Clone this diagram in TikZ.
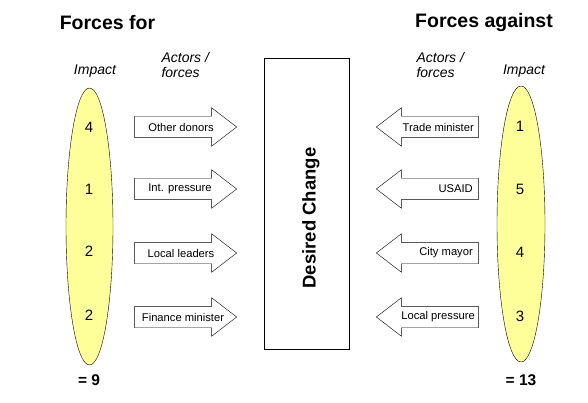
\documentclass[tikz,border=0pt]{standalone}
\usepackage{fontspec}
\setmainfont{Liberation Sans}
\usetikzlibrary{shapes.arrows}
\definecolor{impactyellow}{HTML}{FFFF99}
\tikzset{
  pusharrow/.style={single arrow,draw,fill=white,minimum height=102pt,minimum width=38pt,
    single arrow head extend=8.5pt,single arrow tip angle=75,inner xsep=0pt,inner ysep=10.5pt},
  armlabel/.style={inner sep=0pt,font=\fontsize{11.2}{13}\selectfont},
  impactnum/.style={font=\fontsize{15}{17}\selectfont},
  sumlabel/.style={font=\fontsize{15.5}{17}\selectfont\bfseries},
  colhead/.style={font=\fontsize{14}{15}\selectfont\itshape,align=left},
  bigtitle/.style={font=\fontsize{19.5}{22}\selectfont\bfseries}
}
\begin{document}
\begin{tikzpicture}[x=1pt,y=-1pt]
  \useasboundingbox (0,0) rectangle (588,403);
  % titles
  \node[bigtitle] (fortitle) at (107.5,23) {Forces for};
  \node[bigtitle] (againsttitle) at (484,23) {Forces against};
  \node[colhead] (forimpact) at (95,71) {Impact};
  \node[colhead] (againstimpact) at (524,71) {Impact};
  \node[colhead,anchor=west] (foractors) at (158,65) {Actors /\\forces};
  \node[colhead,anchor=west] (againstactors) at (413,65) {Actors /\\forces};
  % impact ellipses
  \draw[fill=impactyellow] (89.5,226.5) ellipse (23.5 and 138.5);
  \draw[fill=impactyellow] (521,224) ellipse (24 and 138);
  \node[impactnum] (f1) at (89,127) {4};
  \node[impactnum] (f2) at (89,189) {1};
  \node[impactnum] (f3) at (89,251) {2};
  \node[impactnum] (f4) at (89,315) {2};
  \node[impactnum] (a1) at (520,126) {1};
  \node[impactnum] (a2) at (520,189) {5};
  \node[impactnum] (a3) at (520,252) {4};
  \node[impactnum] (a4) at (520,316) {3};
  \node[sumlabel] (forsum) at (89,380) {= 9};
  \node[sumlabel] (againstsum) at (521,380) {= 13};
  % desired change
  \draw (264,58) rectangle (349,349);
  \node[rotate=90,font=\fontsize{18.5}{20}\selectfont\bfseries] (change) at (311,218) {Desired Change};
  % forces for
  \node[pusharrow,anchor=tip] (donorsarrow) at (237,127) {};
  \node[pusharrow,anchor=tip] (pressurearrow) at (237,189) {};
  \node[pusharrow,anchor=tip] (leadersarrow) at (237,253) {};
  \node[pusharrow,anchor=tip] (financearrow) at (237,317) {};
  \node[armlabel] (donors) at (181,127) {Other donors};
  \node[armlabel] (pressure) at (180,189) {Int. pressure};
  \node[armlabel] (leaders) at (181,253) {Local leaders};
  \node[armlabel] (finance) at (183,317) {Finance minister};
  % forces against
  \node[pusharrow,shape border rotate=180,anchor=tip] (tradearrow) at (376,127) {};
  \node[pusharrow,shape border rotate=180,anchor=tip] (usaidarrow) at (376,189) {};
  \node[pusharrow,shape border rotate=180,anchor=tip] (mayorarrow) at (376,253) {};
  \node[pusharrow,shape border rotate=180,anchor=tip] (localparrow) at (376,317) {};
  \node[armlabel,anchor=east] (trade) at (474,127) {Trade minister};
  \node[armlabel,anchor=east] (usaid) at (473,189) {USAID};
  \node[armlabel,anchor=east] (mayor) at (473,253) {City mayor};
  \node[armlabel,anchor=east] (localp) at (475,317) {Local pressure};
\end{tikzpicture}
\end{document}
